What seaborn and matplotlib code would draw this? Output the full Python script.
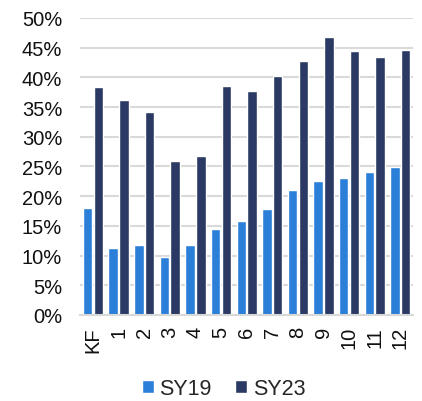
import pandas as pd
import matplotlib
matplotlib.use("Agg")
import matplotlib.pyplot as plt
import seaborn as sns
from matplotlib.ticker import PercentFormatter

# values (percent)
groups = ["KF", "1", "2", "3", "4", "5", "6", "7", "8", "9", "10", "11", "12"]
sy19 = [18.0, 11.3, 11.7, 9.7, 11.8, 14.4, 15.9, 17.9, 21.1, 22.5, 23.1, 24.1, 24.9]
sy23 = [38.4, 36.1, 34.1, 25.9, 26.8, 38.6, 37.7, 40.2, 42.7, 46.8, 44.5, 43.5, 44.6]
series = ["SY19", "SY23"]
colors = ["#2B7FD8", "#2B3A64"]

df = pd.DataFrame({
    "group": groups * 2,
    "value": sy19 + sy23,
    "series": [series[0]] * len(groups) + [series[1]] * len(groups),
})

sns.set_style("white")
plt.rcParams["font.family"] = ["Liberation Sans", "DejaVu Sans"]

fig = plt.figure(figsize=(4.22, 4.02), dpi=100)
ax = fig.add_axes([0.19, 0.214, 0.789, 0.739])

sns.barplot(data=df, x="group", y="value", hue="series", palette=colors,
            width=0.84, gap=0.12, ax=ax, saturation=1)

ax.set_ylim(0, 50)
ax.set_yticks(range(0, 51, 5))
ax.yaxis.set_major_formatter(PercentFormatter(decimals=0))
ax.set_xlim(-0.5, len(groups) - 0.5)
ax.set_xlabel("")
ax.set_ylabel("")
ax.grid(axis="y", color="#D9D9D9", linewidth=1.5)
ax.set_axisbelow(True)
for side in ["top", "right", "left"]:
    ax.spines[side].set_visible(False)
ax.spines["bottom"].set_color("#D9D9D9")
ax.spines["bottom"].set_linewidth(1.5)
ax.tick_params(axis="y", length=0, pad=13, labelsize=14.5, labelcolor="#111111")
ax.tick_params(axis="x", length=0, pad=8, labelsize=14.5, labelrotation=90,
               labelcolor="#111111")

handles, labels = ax.get_legend_handles_labels()
ax.legend_.remove()
fig.legend(handles, labels, loc="center", bbox_to_anchor=(0.53, 0.03), ncol=2,
           frameon=False, fontsize=15.5, handlelength=0.55, handleheight=0.55,
           handletextpad=0.25, columnspacing=1.1)

fig.savefig("out.png", dpi=100)
